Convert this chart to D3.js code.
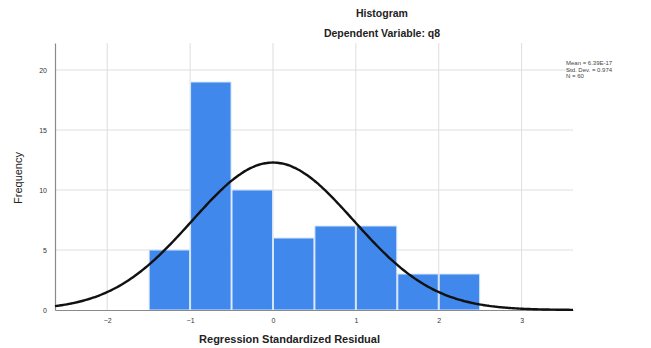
<!DOCTYPE html>
<html>
<head>
<meta charset="utf-8">
<script src="https://cdn.jsdelivr.net/npm/d3@7"></script>
<style>
  body { margin: 0; background: #fff; }
  svg { display: block; font-family: "Liberation Sans", Arial, sans-serif; }
</style>
</head>
<body>
<div id="chart"></div>
<script>
// bins of the residuals (width 0.5)
const binStarts = [-1.5, -1.0, -0.5, 0.0, 0.5, 1.0, 1.5, 2.0];
const binWidth = 0.5;
const counts = [5, 19, 10, 6, 7, 7, 3, 3];
const xTicks = [-2, -1, 0, 1, 2, 3];
const yTicks = [0, 5, 10, 15, 20];
const stats = ['Mean = 6.39E-17', 'Std. Dev. = 0.974', 'N = 60'];
const mean = 0, sd = 0.974, n = 60;

const width = 651, height = 348;
const margin = { top: 43, right: 78, bottom: 38, left: 55 };
const innerW = width - margin.left - margin.right;
const innerH = height - margin.top - margin.bottom;

const svg = d3.select('#chart').append('svg')
  .attr('width', width)
  .attr('height', height);

const g = svg.append('g')
  .attr('transform', `translate(${margin.left},${margin.top})`);

const x = d3.scaleLinear().domain([-2.63, 3.62]).range([0, innerW]);
const y = d3.scaleLinear().domain([0, 22.25]).range([innerH, 0]);

// grid
g.selectAll('.vgrid').data(xTicks).enter().append('line')
  .attr('x1', d => x(d)).attr('x2', d => x(d))
  .attr('y1', 0).attr('y2', innerH)
  .attr('stroke', '#dedede').attr('stroke-width', 1);
g.selectAll('.hgrid').data(yTicks.slice(1)).enter().append('line')
  .attr('x1', 0).attr('x2', innerW)
  .attr('y1', d => y(d)).attr('y2', d => y(d))
  .attr('stroke', '#dedede').attr('stroke-width', 1);

// bars
g.selectAll('.bar').data(counts).enter().append('rect')
  .attr('class', 'bar')
  .attr('x', (d, i) => x(binStarts[i]) + 0.5)
  .attr('width', (d, i) => x(binStarts[i] + binWidth) - x(binStarts[i]) - 1)
  .attr('y', d => y(d))
  .attr('height', d => innerH - y(d))
  .attr('fill', '#4088ec')
  .attr('stroke', '#d6e6fb')
  .attr('stroke-width', 1);

// axes
const xAxis = g.append('g')
  .attr('transform', `translate(0,${innerH})`)
  .call(d3.axisBottom(x).tickValues(xTicks).tickSize(0).tickPadding(8).tickFormat(d3.format('d')));
const yAxis = g.append('g')
  .call(d3.axisLeft(y).tickValues(yTicks).tickSize(0).tickPadding(8).tickFormat(d3.format('d')));
[xAxis, yAxis].forEach(a => {
  a.select('.domain').attr('stroke', '#8a8a8a').attr('stroke-width', 1.2);
  a.selectAll('text').attr('font-size', 7).attr('fill', '#333')
    .style('font-family', '"Liberation Sans", Arial, sans-serif');
});

// normal curve
const curveXs = d3.range(0, innerW + 1, 2).map(px => x.invert(px));
const pdf = v => n * binWidth * Math.exp(-0.5 * ((v - mean) / sd) ** 2) / (sd * Math.sqrt(2 * Math.PI));
g.append('path')
  .datum(curveXs)
  .attr('fill', 'none')
  .attr('stroke', '#111')
  .attr('stroke-width', 2.4)
  .attr('d', d3.line().x(d => x(d)).y(d => y(pdf(d))).curve(d3.curveBasis));

// titles
svg.append('text').attr('x', 382).attr('y', 17).attr('text-anchor', 'middle')
  .attr('font-size', 10.5).attr('font-weight', 'bold').attr('fill', '#222').text('Histogram');
svg.append('text').attr('x', 382).attr('y', 37).attr('text-anchor', 'middle')
  .attr('font-size', 10.5).attr('font-weight', 'bold').attr('fill', '#222').text('Dependent Variable: q8');
svg.append('text').attr('x', margin.left + x(0.2)).attr('y', 343).attr('text-anchor', 'middle')
  .attr('font-size', 11).attr('font-weight', 'bold').attr('fill', '#222').text('Regression Standardized Residual');
svg.append('text')
  .attr('transform', `translate(22,${margin.top + y(11)}) rotate(-90)`)
  .attr('text-anchor', 'middle')
  .attr('font-size', 11).attr('fill', '#222').text('Frequency');

// stats box
svg.append('g').selectAll('text').data(stats).enter().append('text')
  .attr('x', 566).attr('y', (d, i) => 65 + i * 6.5)
  .attr('font-size', 6).attr('fill', '#444').text(d => d);
</script>
</body>
</html>
